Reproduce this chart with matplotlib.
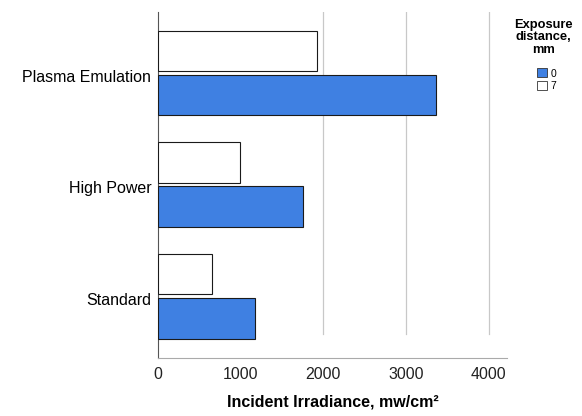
import numpy as np
import matplotlib
matplotlib.use("Agg")
import matplotlib.pyplot as plt
from matplotlib.patches import Patch
from matplotlib.transforms import ScaledTranslation

plt.rcParams["font.family"] = ["Liberation Sans", "DejaVu Sans"]

# data
categories = ["Standard", "High Power", "Plasma Emulation"]
irr_0mm = [1172, 1758, 3366]
irr_7mm = [655, 990, 1920]
series_labels = ["0", "7"]

blue = "#3f80e2"

fig = plt.figure(figsize=(5.82, 4.16), dpi=100)
ax = fig.add_axes([0.272, 0.139, 0.599, 0.832])

y = np.arange(len(categories))
h = 0.365
ax.barh(y - h / 2 - 0.015, irr_0mm, height=h, color=blue, edgecolor="#1a1a1a", linewidth=0.8, zorder=3)
ax.barh(y + h / 2 + 0.015, irr_7mm, height=h, color="white", edgecolor="#1a1a1a", linewidth=0.8, zorder=3)

for gx in [2000, 3000, 4000]:
    ax.axvline(gx, ymin=0.07, ymax=1.0, color="#c8c8c8", linewidth=0.9, zorder=1)

ax.set_xlim(0, 4223)
ax.set_ylim(-0.556, 2.547)
ax.set_xticks([0, 1000, 2000, 3000, 4000])
ax.set_yticks(y)
ax.set_yticklabels(categories, fontsize=11.5)
ax.tick_params(axis="x", labelsize=11.5, length=0, pad=6, colors="#222222")
ax.tick_params(axis="y", length=0, pad=5)
for lbl in ax.get_yticklabels():
    lbl.set_transform(lbl.get_transform() + ScaledTranslation(0, -0.025, fig.dpi_scale_trans))
ax.set_xlabel("Incident Irradiance, mw/cm²", fontsize=11.5, fontweight="bold", labelpad=9)

for s in ["top", "right"]:
    ax.spines[s].set_visible(False)
ax.spines["left"].set_color("#555555")
ax.spines["bottom"].set_color("#aaaaaa")

handles = [Patch(facecolor=blue, edgecolor="#333333", linewidth=0.6),
           Patch(facecolor="white", edgecolor="#333333", linewidth=0.6)]
fig.text(0.933, 0.955, "Exposure\ndistance,\nmm", ha="center", va="top",
         fontsize=9.3, fontweight="bold", linespacing=1.05)
fig.legend(handles, series_labels, loc="upper left", bbox_to_anchor=(0.914, 0.848),
           frameon=False, fontsize=7.5, handlelength=0.95, handleheight=0.95,
           handletextpad=0.3, labelspacing=0.25, borderpad=0)

fig.savefig("out.png", dpi=100)
